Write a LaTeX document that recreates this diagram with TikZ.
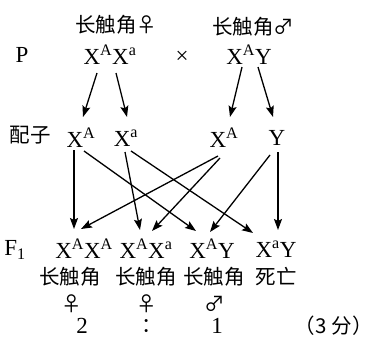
\documentclass[tikz,border=0pt]{standalone}
\usepackage{fontspec}
\setmainfont{Liberation Serif}
\newfontfamily\cjk{Noto Sans CJK SC}
\usetikzlibrary{arrows.meta,calc}
\tikzset{
  lat/.style={inner sep=0pt,font=\fontsize{23}{25}\selectfont},
  han/.style={inner sep=0pt,font=\cjk\fontsize{20.5}{22}\selectfont},
  arr/.style={line width=1.3pt,-{Stealth[length=11pt,width=8pt,inset=2pt]}}
}
\newcommand\Sp[1]{\textsuperscript{#1}}
\begin{document}
\begin{tikzpicture}[x=1pt,y=-1pt]
\useasboundingbox (0,0) rectangle (375,340);
% parents
\node[han] (fl) at (116,25) {长触角♀};
\node[han] (ml) at (253,27) {长触角♂};
\node[lat] (P) at (22,55) {P};
\node[lat] (pf) at (110,55) {X\Sp{A}X\Sp{a}};
\node[lat] (cross) at (182,57) {×};
\node[lat] (pm) at (249,55) {X\Sp{A}Y};
% gametes
\node[han] (gl) at (30,135) {配子};
\node[lat] (g1) at (81,138) {X\Sp{A}};
\node[lat] (g2) at (126,138) {X\Sp{a}};
\node[lat] (g3) at (224,138) {X\Sp{A}};
\node[lat] (g4) at (277,138) {Y};
% F1
\node[lat] (F1) at (15,250) {F\textsubscript{1}};
\node[lat] (o1) at (84,249) {X\Sp{A}X\Sp{A}};
\node[lat] (o2) at (146,249) {X\Sp{A}X\Sp{a}};
\node[lat] (o3) at (212,249) {X\Sp{A}Y};
\node[lat] (o4) at (276,249) {X\Sp{a}Y};
\node[han] (t1) at (70,277) {长触角};
\node[han] (t2) at (146,277) {长触角};
\node[han] (t3) at (214,277) {长触角};
\node[han] (t4) at (276,277) {死亡};
\node[han] (s1) at (72,304) {♀};
\node[han] (s2) at (147,304) {♀};
\node[han] (s3) at (215,304) {♂};
\node[lat] (r2) at (82,326) {2};
\node[han] (rc) at (152,326) {：};
\node[lat] (r1) at (217,326) {1};
\node[han,anchor=east] (score) at (373,326) {（3\hspace{5pt}分）};
% arrows P -> gametes
\draw[arr] ($(pf)+(-13,18)$) -- ($(g1)+(2,-21)$);
\draw[arr] ($(pf)+(6,18)$) -- ($(g2)+(1,-21)$);
\draw[arr] ($(pm)+(-7,12)$) -- ($(g3)+(6,-21)$);
\draw[arr] ($(pm)+(9,12)$) -- ($(g4)+(-4,-21)$);
% arrows gametes -> F1
\draw[arr] ($(g1)+(-7,12)$) -- ($(o1)+(-10,-20)$);
\draw[arr] ($(g1)+(3,13)$) -- ($(o3)+(-16,-18)$);
\draw[arr] ($(g2)+(-1,14)$) -- ($(o2)+(-6,-19)$);
\draw[arr] ($(g2)+(5,13)$) -- ($(o4)+(-23,-16)$);
\draw[arr] ($(g3)+(-6,18)$) -- ($(o1)+(-3,-20)$);
\draw[arr] ($(g3)+(-4,20)$) -- ($(o2)+(6,-18)$);
\draw[arr] ($(g4)+(-7,17)$) -- ($(o3)+(-2,-17)$);
\draw[arr] ($(g4)+(1,14)$) -- ($(o4)+(2,-19)$);
\end{tikzpicture}
\end{document}
